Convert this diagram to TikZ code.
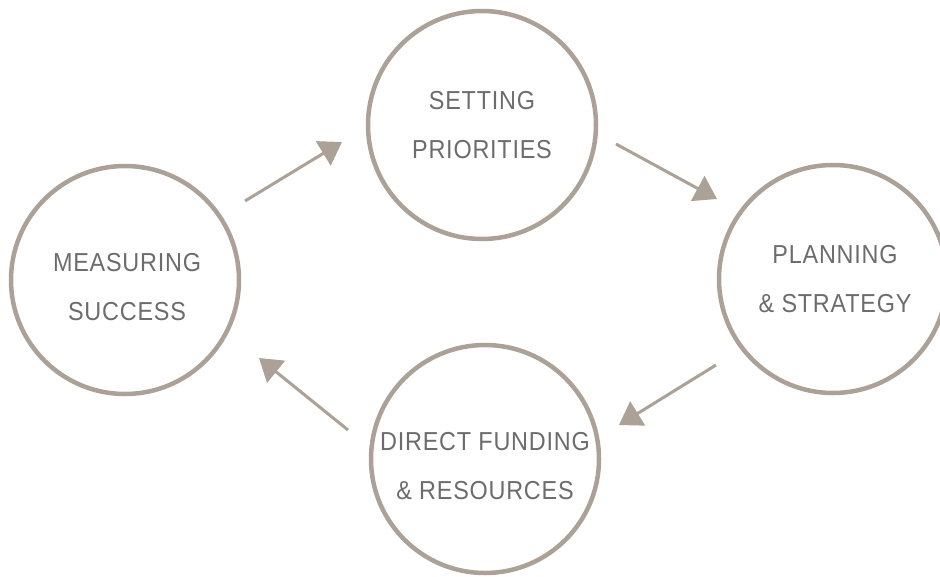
\documentclass[tikz,border=0pt]{standalone}
\usepackage{fontspec}
\setmainfont{Liberation Sans}[LetterSpace=3,FakeStretch=0.9]
\usetikzlibrary{arrows.meta}
\definecolor{ring}{RGB}{172,161,150}
\definecolor{txt}{RGB}{108,108,108}
\begin{document}
\begin{tikzpicture}[x=1pt,y=-1pt,
  ringnode/.style={circle,draw=ring,line width=4.5pt,minimum size=228pt,inner sep=0pt},
  lbl/.style={align=center,text=txt,anchor=base,inner sep=0pt,font=\fontsize{26}{49}\selectfont},
  flow/.style={draw=ring,line width=3pt,-{Triangle[length=22pt,width=28pt]}}]
\useasboundingbox (0,0) rectangle (940,576);
\node[ringnode] (T) at (482,125) {};
\node[ringnode] (L) at (125,280) {};
\node[ringnode] (R) at (833,279) {};
\node[ringnode] (B) at (485,459) {};
\node[lbl] (Tt) at (482,158) {SETTING\\PRIORITIES};
\node[lbl] (Lt) at (127,320) {MEASURING\\SUCCESS};
\node[lbl] (Rt) at (835,312) {PLANNING\\\& STRATEGY};
\node[lbl] (Bt) at (485,499) {DIRECT FUNDING\\\& RESOURCES};
\coordinate (a1s) at (245,201); \coordinate (a1e) at (342,142);
\coordinate (a2s) at (616,144); \coordinate (a2e) at (717,199);
\coordinate (a3s) at (716,365); \coordinate (a3e) at (619,425);
\coordinate (a4s) at (348,430); \coordinate (a4e) at (259,358);
\draw[flow] (a1s) -- (a1e);
\draw[flow] (a2s) -- (a2e);
\draw[flow] (a3s) -- (a3e);
\draw[flow] (a4s) -- (a4e);
\end{tikzpicture}
\end{document}
